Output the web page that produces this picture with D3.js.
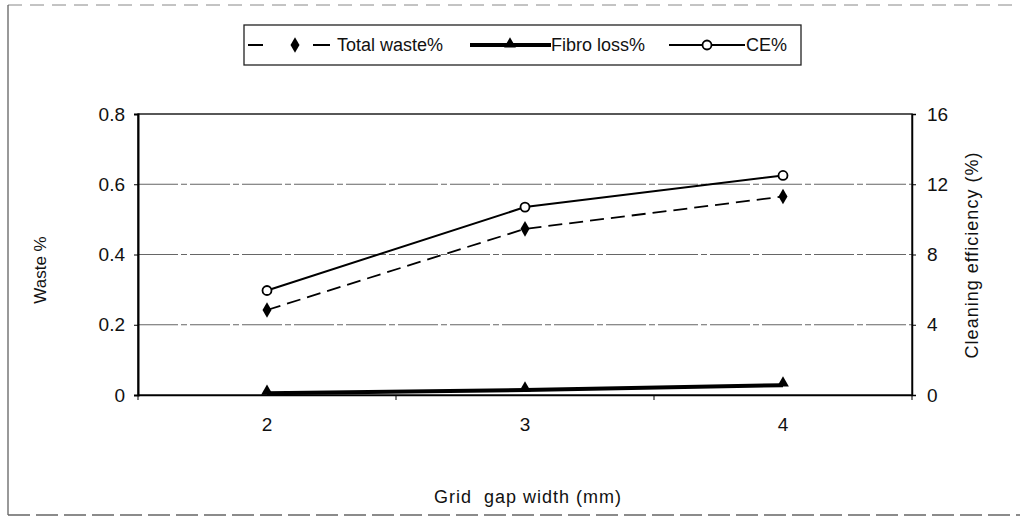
<!DOCTYPE html>
<html><head><meta charset="utf-8">
<script src="https://cdn.jsdelivr.net/npm/d3@7"></script>
<style>body{margin:0;background:#fff}svg{display:block;font-family:"Liberation Sans",Arial,sans-serif}</style>
</head><body><svg id="c" width="1024" height="525"></svg>
<script>
const categories = ["2", "3", "4"];
const totalWaste = [0.242, 0.473, 0.565];
const fibreLoss = [0.005, 0.014, 0.028];
const cleaningEff = [5.95, 10.7, 12.5];
const leftTicks = [0, 0.2, 0.4, 0.6, 0.8];
const rightTicks = [0, 4, 8, 12, 16];
const seriesNames = ["Total waste%", "Fibro loss%", "CE%"];

const svg = d3.select("#c");
const L = 138, R = 912, T = 114, B = 395;
const x = d3.scaleBand().domain(categories).range([L, R]);
const yL = d3.scaleLinear().domain([0, 0.8]).range([B, T]);
const yR = d3.scaleLinear().domain([0, 16]).range([B, T]);
const cx = d => x(d) + x.bandwidth() / 2;
const FONT = "Liberation Sans, Arial, sans-serif";

// outer frame (scan edges)
svg.append("line").attr("x1", 8).attr("x2", 1020).attr("y1", 5).attr("y2", 5)
  .attr("stroke", "#888").attr("stroke-dasharray", "14,8").attr("stroke-width", 1);
svg.append("line").attr("x1", 8).attr("x2", 8).attr("y1", 5).attr("y2", 515)
  .attr("stroke", "#555").attr("stroke-width", 1.2);
svg.append("line").attr("x1", 8).attr("x2", 1020).attr("y1", 515).attr("y2", 515)
  .attr("stroke", "#666").attr("stroke-dasharray", "22,6").attr("stroke-width", 1.5);

// gridlines
svg.append("g").selectAll("line").data(leftTicks.filter(v => v > 0 && v < 0.8)).join("line")
  .attr("x1", L).attr("x2", R).attr("y1", d => yL(d)).attr("y2", d => yL(d))
  .attr("stroke", "#666").attr("stroke-width", 1.1).attr("stroke-dasharray", "40,3,6,3");

// plot border
svg.append("rect").attr("x", L).attr("y", T).attr("width", R - L).attr("height", B - T)
  .attr("fill", "none").attr("stroke", "#111").attr("stroke-width", 1.4);

// left axis
const gl = svg.append("g").attr("transform", `translate(${L},0)`)
  .call(d3.axisLeft(yL).tickValues(leftTicks).tickFormat(d => d === 0 ? "0" : d3.format(".1f")(d)).tickSize(4).tickPadding(9));
gl.select(".domain").attr("stroke", "#000").attr("stroke-width", 2);
gl.selectAll("text").attr("font-size", 19).attr("fill", "#111").attr("font-family", FONT);

// right axis
const gr = svg.append("g").attr("transform", `translate(${R},0)`)
  .call(d3.axisRight(yR).tickValues(rightTicks).tickSize(4).tickPadding(11));
gr.select(".domain").attr("stroke", "#000").attr("stroke-width", 1.5);
gr.selectAll("text").attr("font-size", 19).attr("fill", "#111").attr("font-family", FONT);

// bottom axis
const gb = svg.append("g").attr("transform", `translate(0,${B})`)
  .call(d3.axisBottom(x).tickSize(0).tickPadding(23));
gb.select(".domain").attr("stroke", "#000").attr("stroke-width", 1.5);
gb.selectAll("text").attr("font-size", 19).attr("fill", "#111").attr("font-family", FONT);
svg.append("g").selectAll("line").data(categories.concat(["end"])).join("line")
  .attr("x1", (d, i) => L + i * x.bandwidth()).attr("x2", (d, i) => L + i * x.bandwidth())
  .attr("y1", B).attr("y2", B + 5).attr("stroke", "#000");

// titles
svg.append("text").attr("transform", "translate(46,270) rotate(-90)").attr("text-anchor", "middle")
  .attr("font-size", 17).attr("fill", "#111").text("Waste %");
svg.append("text").attr("transform", "translate(978,255) rotate(-90)").attr("text-anchor", "middle")
  .attr("font-size", 18).attr("letter-spacing", 1).attr("fill", "#111").text("Cleaning efficiency (%)");
svg.append("text").attr("x", 528).attr("y", 503).attr("text-anchor", "middle")
  .attr("font-size", 18).attr("letter-spacing", 1).attr("xml:space", "preserve").style("white-space", "pre")
  .attr("fill", "#111").text("Grid  gap width (mm)");

// series
const line = (vals, ys) => d3.line().x((d, i) => cx(categories[i])).y(d => ys(d))(vals);
svg.append("path").attr("d", line(fibreLoss, yL)).attr("fill", "none").attr("stroke", "#000").attr("stroke-width", 4);
svg.append("path").attr("d", line(totalWaste, yL)).attr("fill", "none").attr("stroke", "#000").attr("stroke-width", 1.8).attr("stroke-dasharray", "14,7");
svg.append("path").attr("d", line(cleaningEff, yR)).attr("fill", "none").attr("stroke", "#000").attr("stroke-width", 2);

const diamond = d3.symbol().type(d3.symbolDiamond).size(70);
const tri = d3.symbol().type(d3.symbolTriangle).size(60);
svg.append("g").selectAll("path").data(totalWaste).join("path")
  .attr("d", diamond).attr("transform", (d, i) => `translate(${cx(categories[i])},${yL(d)})`).attr("fill", "#000");
svg.append("g").selectAll("path").data(fibreLoss).join("path")
  .attr("d", tri).attr("transform", (d, i) => `translate(${cx(categories[i])},${yL(d) - 2})`).attr("fill", "#000");
svg.append("g").selectAll("circle").data(cleaningEff).join("circle")
  .attr("cx", (d, i) => cx(categories[i])).attr("cy", d => yR(d)).attr("r", 4.5)
  .attr("fill", "#fff").attr("stroke", "#000").attr("stroke-width", 1.8);

// legend
const lg = svg.append("g");
lg.append("rect").attr("x", 244).attr("y", 25).attr("width", 557).attr("height", 40)
  .attr("fill", "#fff").attr("stroke", "#222").attr("stroke-width", 1.3);
const ly = 45;
const items = [
  {x1: 248, x2: 330, tx: 337, dash: "15,50,17", w: 2, sym: "d", mx: 295},
  {x1: 470, x2: 551, tx: 551, dash: null, w: 4, sym: "t", mx: 510},
  {x1: 669, x2: 745, tx: 746, dash: null, w: 2, sym: "c", mx: 707}
];
items.forEach((it, i) => {
  lg.append("line").attr("x1", it.x1).attr("x2", it.x2).attr("y1", ly).attr("y2", ly)
    .attr("stroke", "#000").attr("stroke-width", it.w).attr("stroke-dasharray", it.dash);
  if (it.sym === "d") lg.append("path").attr("d", diamond).attr("transform", `translate(${it.mx},${ly})`).attr("fill", "#000");
  if (it.sym === "t") lg.append("path").attr("d", tri).attr("transform", `translate(${it.mx},${ly - 1})`).attr("fill", "#000");
  if (it.sym === "c") lg.append("circle").attr("cx", it.mx).attr("cy", ly).attr("r", 4.5).attr("fill", "#fff").attr("stroke", "#000").attr("stroke-width", 1.8);
  lg.append("text").attr("x", it.tx).attr("y", ly + 6).attr("font-size", 18).attr("fill", "#111").attr("font-family", FONT).text(seriesNames[i]);
});
</script></body></html>
